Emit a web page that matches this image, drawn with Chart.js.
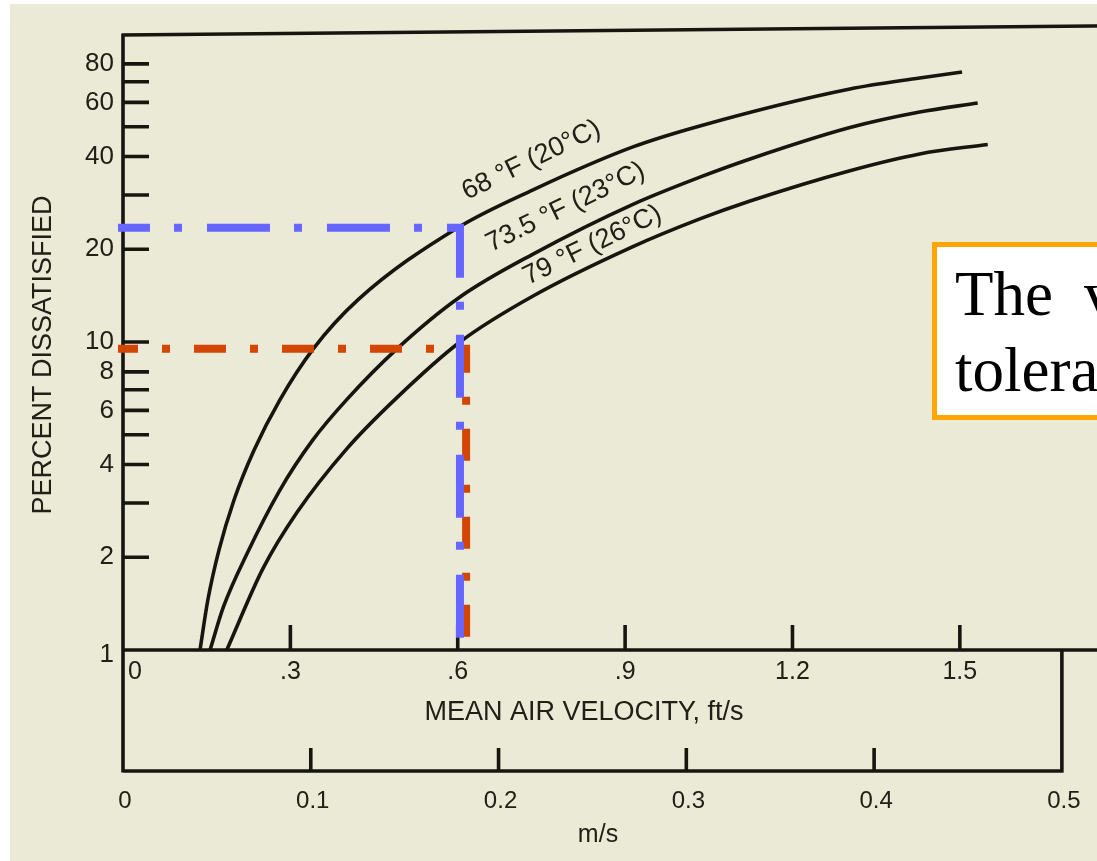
<!DOCTYPE html>
<html><head><meta charset="utf-8">
<script src="https://cdn.jsdelivr.net/npm/chart.js@4.4.1/dist/chart.umd.min.js"></script>
<style>
html,body{margin:0;padding:0;overflow:hidden;background:#fff;width:1097px;height:861px;}
#wrap{position:absolute;left:0;top:0;width:1200px;height:861px;}
canvas{display:block;}
</style></head><body>
<div id="wrap"><canvas id="c" width="1200" height="861"></canvas></div>
<script>
// ---------- data ----------
const curveNames = ['68 °F (20°C)', '73.5 °F (23°C)', '79 °F (26°C)'];

const velocity68 = [0.138, 0.152, 0.172, 0.199, 0.235, 0.281, 0.341, 0.421, 0.600, 0.735, 0.914, 1.034, 1.303, 1.428, 1.504];
const dissat68   = [1.0,   1.45,  2.11,  3.07,  4.46,  6.48,  9.5,   13.7,  23.5,  31.2,  43.0,  50.3,  66.3,  72.0,  75.3];

const velocity73 = [0.156, 0.180, 0.222, 0.281, 0.340, 0.401, 0.491, 0.604, 0.735, 0.914, 1.034, 1.124, 1.303, 1.428, 1.532];
const dissat73   = [1.0,   1.38,  2.05,  3.3,   4.8,   6.5,   9.5,   14.0,  19.3,  28.0,  34.3,  39.3,  49.7,  55.8,  59.7];

const velocity79 = [0.186, 0.251, 0.312, 0.401, 0.491, 0.604, 0.735, 0.914, 1.034, 1.124, 1.303, 1.428, 1.550];
const dissat79   = [1.0,   1.84,  2.8,   4.5,   6.6,   10.0,  14.1,  20.4,  25.1,  28.7,  36.0,  40.8,  43.8];

// guide lines (reading aids)
const blueGuideX = [-0.009, 0.604, 0.604];
const blueGuideY = [23.5, 23.5, 1.09];
const redGuideX  = [-0.009, 0.615, 0.615];
const redGuideY  = [9.5, 9.5, 1.09];

// axes
const ftTicks      = [0, 0.3, 0.6, 0.9, 1.2, 1.5];
const ftTickLabels = ['0', '.3', '.6', '.9', '1.2', '1.5'];
const msTicks      = [0, 0.1, 0.2, 0.3, 0.4, 0.5];
const msTickLabels = ['0', '0.1', '0.2', '0.3', '0.4', '0.5'];
const pctTicks       = [2, 3, 4, 5, 6, 7, 8, 10, 20, 30, 40, 50, 60, 70, 80];
const pctLabelValues = [1, 2, 4, 6, 8, 10, 20, 40, 60, 80];
const pctLabelTexts  = ['1', '2', '4', '6', '8', '10', '20', '40', '60', '80'];

const yTitle  = 'PERCENT DISSATISFIED';
const xTitle  = 'MEAN AIR VELOCITY, ft/s';
const x2Title = 'm/s';
const noteLine1 = ['The', 'velocity'];
const noteLine2 = 'tolerance';

// ---------- helpers ----------
const zip = (xs, ys) => xs.map((x, i) => ({x: x, y: ys[i]}));
const INK = '#16160f';
const TXT = '#202016';
const SANS = '"Liberation Sans", Arial, Helvetica, sans-serif';

const decor = {
  id: 'decor',
  beforeDraw(chart) {
    const c = chart.ctx;
    c.save();
    c.fillStyle = '#ffffff';
    c.fillRect(0, 0, chart.width, chart.height);
    c.fillStyle = '#ebead7';
    c.fillRect(10, 4, chart.width - 10, chart.height - 4);
    c.restore();
  },
  beforeDatasetsDraw(chart) {
    const c = chart.ctx;
    const xs = chart.scales.x, ys = chart.scales.y, x2 = chart.scales.x2;
    const left = xs.getPixelForValue(0);
    const y0 = ys.getPixelForValue(1);
    const yBox = 771;
    const xEnd = x2.getPixelForValue(0.5);
    c.save();
    c.strokeStyle = INK;
    c.lineWidth = 3.6;
    c.lineCap = 'butt';
    c.beginPath();
    c.moveTo(left - 1.5, 35); c.lineTo(chart.width, 25);
    c.moveTo(left, 34); c.lineTo(left, yBox + 1.5);
    c.moveTo(left, y0); c.lineTo(chart.width, y0);
    c.moveTo(left, yBox); c.lineTo(xEnd + 1.5, yBox);
    c.moveTo(xEnd, y0); c.lineTo(xEnd, yBox + 1.5);
    pctTicks.forEach(v => { const y = ys.getPixelForValue(v); c.moveTo(left, y); c.lineTo(left + 26, y); });
    ftTicks.forEach(v => { if (v === 0) return; const x = xs.getPixelForValue(v); c.moveTo(x, y0); c.lineTo(x, y0 - 25); });
    msTicks.forEach(v => { if (v === 0 || v === 0.5) return; const x = x2.getPixelForValue(v); c.moveTo(x, yBox); c.lineTo(x, yBox - 23); });
    c.stroke();

    c.fillStyle = TXT;
    c.font = '26px ' + SANS;
    c.textBaseline = 'middle';
    c.textAlign = 'right';
    pctLabelValues.forEach((v, i) => {
      let y = ys.getPixelForValue(v);
      if (v === 1) y += 5;
      c.fillText(pctLabelTexts[i], 114, y);
    });
    c.font = '25px ' + SANS;
    ftTicks.forEach((v, i) => {
      const x = xs.getPixelForValue(v);
      if (v === 0) { c.textAlign = 'left'; c.fillText(ftTickLabels[i], x + 5, y0 + 22); }
      else { c.textAlign = 'center'; c.fillText(ftTickLabels[i], x, y0 + 22); }
    });
    c.font = '24px ' + SANS;
    c.textAlign = 'center';
    msTicks.forEach((v, i) => {
      const x = x2.getPixelForValue(v);
      c.fillText(msTickLabels[i], x + 2, yBox + 30);
    });
    c.font = '27px ' + SANS;
    c.fillText(xTitle, 584, 713);
    c.font = '25px ' + SANS;
    c.fillText(x2Title, 598, 835);
    c.save();
    c.translate(44, 355);
    c.rotate(-Math.PI / 2);
    c.font = '27px ' + SANS;
    c.fillText(yTitle, 0, 0);
    c.restore();

    const pos = [[467, 200], [491, 252], [528, 285]];
    c.font = '27px ' + SANS;
    c.textAlign = 'left';
    c.textBaseline = 'alphabetic';
    curveNames.forEach((n, i) => {
      c.save();
      c.translate(pos[i][0], pos[i][1]);
      c.rotate(-26 * Math.PI / 180);
      c.fillText(n, 0, 0);
      c.restore();
    });
    c.restore();
  },
  afterDraw(chart) {
    const c = chart.ctx;
    c.save();
    c.fillStyle = '#ffffff';
    c.fillRect(934.5, 244.5, 400, 173);
    c.strokeStyle = '#ffa500';
    c.lineWidth = 5;
    c.strokeRect(934.5, 244.5, 400, 173);
    c.fillStyle = '#000000';
    c.font = '63px "Liberation Serif", "Times New Roman", serif';
    c.textAlign = 'left';
    c.textBaseline = 'alphabetic';
    c.fillText(noteLine1[0], 955, 315);
    c.fillText(noteLine1[1], 1084, 315);
    c.fillText(noteLine2, 955, 391);
    c.restore();
  }
};

const curveStyle = {borderColor: INK, borderWidth: 3.6, pointRadius: 0, cubicInterpolationMode: 'monotone', fill: false};
const guideStyle = {borderWidth: 8, pointRadius: 0, tension: 0, clip: false, borderCapStyle: 'butt', borderJoinStyle: 'miter', fill: false};

new Chart(document.getElementById('c').getContext('2d'), {
  type: 'line',
  data: {
    datasets: [
      Object.assign({label: 'blue guide', data: zip(blueGuideX, blueGuideY), borderColor: '#6666ff', borderDash: [63, 24, 8, 25], borderDashOffset: 31}, guideStyle),
      Object.assign({label: 'red guide', data: zip(redGuideX, redGuideY), borderColor: '#d24600', borderDash: [32, 24, 8, 24], borderDashOffset: 12}, guideStyle),
      Object.assign({label: curveNames[0], data: zip(velocity68, dissat68)}, curveStyle),
      Object.assign({label: curveNames[1], data: zip(velocity73, dissat73)}, curveStyle),
      Object.assign({label: curveNames[2], data: zip(velocity79, dissat79)}, curveStyle)
    ]
  },
  options: {
    responsive: false,
    animation: false,
    events: [],
    layout: {padding: {left: 123, top: 34, right: 17, bottom: 211}},
    plugins: {legend: {display: false}, tooltip: {enabled: false}},
    scales: {
      x: {type: 'linear', min: 0, max: 1.9, display: false},
      x2: {type: 'linear', axis: 'x', position: 'bottom', min: 0, max: 0.5645, display: false},
      y: {type: 'logarithmic', min: 1, max: 100, display: false}
    }
  },
  plugins: [decor]
});
</script>
</body></html>
